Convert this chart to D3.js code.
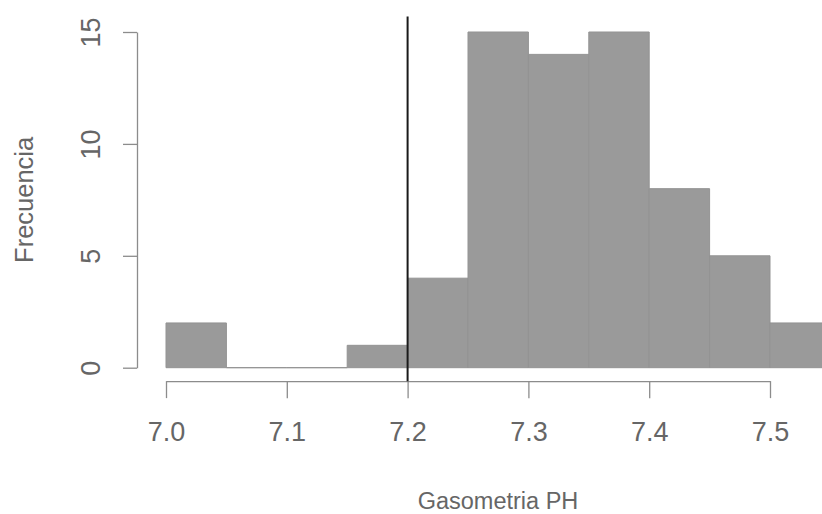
<!DOCTYPE html>
<html>
<head>
<meta charset="utf-8">
<script src="https://cdn.jsdelivr.net/npm/d3@7/dist/d3.min.js"></script>
<style>
  html, body { margin: 0; padding: 0; background: #fff; }
  svg { display: block; }
  text { font-family: "Liberation Sans", Arial, Helvetica, sans-serif; }
</style>
</head>
<body>
<svg id="chart" width="822" height="514"></svg>
<script>
// Histogram of blood-gas pH with a reference line at 7.2
const binStarts = [7.00, 7.05, 7.10, 7.15, 7.20, 7.25, 7.30, 7.35, 7.40, 7.45, 7.50];
const binWidth = 0.05;
const counts = [2, 0, 0, 1, 4, 15, 14, 15, 8, 5, 2];
const xTicks = [7.0, 7.1, 7.2, 7.3, 7.4, 7.5];
const yTicks = [0, 5, 10, 15];
const refLine = 7.2;
const xLabel = "Gasometria PH";
const yLabel = "Frecuencia";

const svg = d3.select("#chart");

const x = d3.scaleLinear().domain([7.0, 7.5]).range([166, 770]);
const y = d3.scaleLinear().domain([0, 15]).range([367.7, 32]);

// plot region (count range padded by 4%, as in base graphics)
const yLo = -0.6, yHi = 15.6;
const plotBottom = y(yLo);
const plotLeft = 137;

const axisCol = "#8c8c8c";
const textCol = "#666666";
const tickFont = 27;

// bars as closed paths so empty bins still show their baseline edge
svg.append("g")
  .selectAll("path")
  .data(binStarts.map((s, i) => ({ x0: s, x1: s + binWidth, n: counts[i] })))
  .join("path")
  .attr("d", d => {
    const p = d3.path();
    p.moveTo(x(d.x0), y(0));
    p.lineTo(x(d.x0), y(d.n));
    p.lineTo(x(d.x1), y(d.n));
    p.lineTo(x(d.x1), y(0));
    p.closePath();
    return p.toString();
  })
  .attr("fill", "#9a9a9a")
  .attr("stroke", "#939393")
  .attr("stroke-width", 1);

// x axis
const xAxis = d3.axisBottom(x)
  .tickValues(xTicks)
  .tickFormat(d3.format(".1f"))
  .tickSize(17)
  .tickSizeOuter(0);
const gx = svg.append("g")
  .attr("transform", `translate(0,${plotBottom})`)
  .call(xAxis);
gx.select(".domain").attr("stroke", axisCol).attr("stroke-width", 1.3);
gx.selectAll(".tick line").attr("stroke", axisCol).attr("stroke-width", 1.3);
gx.selectAll(".tick text")
  .attr("fill", textCol)
  .attr("font-size", tickFont)
  .attr("y", 60)
  .attr("dy", 0);

// y axis
const yAxis = d3.axisLeft(y)
  .tickValues(yTicks)
  .tickSize(14)
  .tickSizeOuter(0)
  .tickPadding(0);
const gy = svg.append("g")
  .attr("transform", `translate(${plotLeft},0)`)
  .call(yAxis);
gy.select(".domain").attr("stroke", axisCol).attr("stroke-width", 1.3);
gy.selectAll(".tick line").attr("stroke", axisCol).attr("stroke-width", 1.3);
gy.selectAll(".tick text")
  .attr("fill", textCol)
  .attr("font-size", tickFont)
  .attr("text-anchor", "middle")
  .attr("x", 0)
  .attr("dy", 0)
  .attr("transform", "translate(-37,0) rotate(-90)");

// reference line
svg.append("line")
  .attr("x1", x(refLine)).attr("x2", x(refLine))
  .attr("y1", y(yHi) - 2).attr("y2", plotBottom)
  .attr("stroke", "#1a1a1a")
  .attr("stroke-width", 2);

// axis titles
svg.append("text")
  .attr("x", 498).attr("y", 509)
  .attr("text-anchor", "middle")
  .attr("fill", textCol)
  .attr("font-size", 23.5)
  .text(xLabel);

svg.append("text")
  .attr("transform", `translate(33,${y(7.5)}) rotate(-90)`)
  .attr("text-anchor", "middle")
  .attr("fill", textCol)
  .attr("font-size", 25.5)
  .text(yLabel);
</script>
</body>
</html>
